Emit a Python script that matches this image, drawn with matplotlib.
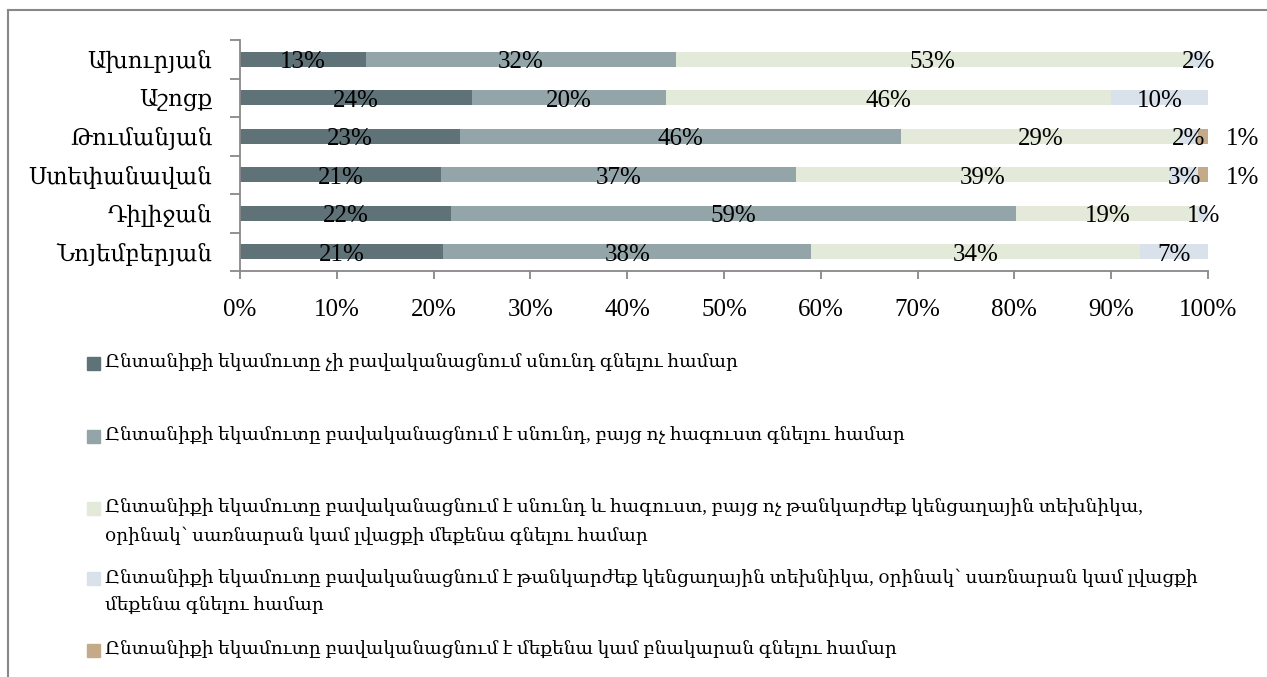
import numpy as np
import matplotlib
matplotlib.use("Agg")
import matplotlib.pyplot as plt
from matplotlib.patches import Rectangle
from matplotlib.lines import Line2D

plt.rcParams["font.family"] = ["Liberation Serif", "DejaVu Serif", "DejaVu Sans"]

# data: share of households (%), as printed on the chart
regions = ["Ախուրյան", "Աշոցք", "Թումանյան", "Ստեփանավան", "Դիլիջան", "Նոյեմբերյան"]
no_food = [13, 24, 23, 21, 22, 21]
food_only = [32, 20, 46, 37, 59, 38]
food_clothes = [53, 46, 29, 39, 19, 34]
appliances = [2, 10, 2, 3, 1, 7]
car_flat = [0, 0, 1, 1, 0, 0]

series = [no_food, food_only, food_clothes, appliances, car_flat]
colors = ["#5f7278", "#93a5a9", "#e4ead9", "#d9e1ea", "#c4aa88"]
legend_labels = [
    "Ընտանիքի եկամուտը չի բավականացնում սնունդ գնելու համար",
    "Ընտանիքի եկամուտը բավականացնում է սնունդ, բայց ոչ հագուստ գնելու համար",
    "Ընտանիքի եկամուտը բավականացնում է սնունդ և հագուստ, բայց ոչ թանկարժեք կենցաղային տեխնիկա,\n"
    "օրինակ՝ սառնարան կամ լվացքի մեքենա գնելու համար",
    "Ընտանիքի եկամուտը բավականացնում է թանկարժեք կենցաղային տեխնիկա, օրինակ՝ սառնարան կամ լվացքի\n"
    "մեքենա գնելու համար",
    "Ընտանիքի եկամուտը բավականացնում է մեքենա կամ բնակարան գնելու համար",
]

W, H = 1267, 677
fig = plt.figure(figsize=(W / 100, H / 100), dpi=100)
ax = fig.add_axes([240 / W, 1 - 271 / H, 968 / W, 231 / H])

# 100% stacked bars
vals = np.array(series, dtype=float)
shares = vals / vals.sum(axis=0) * 100
y = np.arange(len(regions))
left = np.zeros(len(regions))
for k, (row, col) in enumerate(zip(shares, colors)):
    bars = ax.barh(y, row, left=left, height=0.39, color=col, edgecolor="none")
    for i, v in enumerate(vals[k]):
        if v == 0:
            continue
        txt = f"{v:.0f}%"
        if k == 4:
            # small segment: label pushed outside the bar end
            ax.annotate(txt, xy=(100, y[i]), xytext=(25, -2), textcoords="offset points",
                        ha="center", va="center", fontsize=18, annotation_clip=False)
        else:
            ax.annotate(txt, xy=(left[i] + row[i] / 2, y[i]), xytext=(0, -2),
                        textcoords="offset points", ha="center", va="center", fontsize=18)
    left += row

ax.set_xlim(0, 100)
ax.set_ylim(len(regions) - 0.5, -0.5)
ax.set_xticks(np.arange(0, 101, 10))
ax.set_xticklabels([f"{t}%" for t in range(0, 101, 10)], fontsize=18)
ax.set_yticks(y)
ax.set_yticklabels(regions, fontsize=16.5)
ax.set_yticks(np.arange(-0.5, len(regions)), minor=True)

for s in ["top", "right"]:
    ax.spines[s].set_visible(False)
for s in ["left", "bottom"]:
    ax.spines[s].set_color("#888888")
    ax.spines[s].set_linewidth(1.3)
ax.tick_params(axis="y", which="major", length=0, pad=20)
ax.tick_params(axis="y", which="minor", length=7, width=1.3, color="#888888", direction="out")
ax.tick_params(axis="x", length=6, width=1.3, color="#888888", direction="out", pad=14)

# legend drawn by hand to keep Excel-like spacing
rows = [363, 436, 508, 578, 650]
for lab, col, yc in zip(legend_labels, colors, rows):
    fig.patches.append(Rectangle((87 / W, 1 - (yc + 6.5) / H), 13 / W, 13 / H,
                                 transform=fig.transFigure, color=col, figure=fig))
    for j, line in enumerate(lab.split("\n")):
        fig.text(105 / W, 1 - (yc + j * 28) / H, line, ha="left", va="center", fontsize=13.3)

# outer frame (only top and left visible)
fig.lines.append(Line2D([8 / W, 1], [1 - 10 / H, 1 - 10 / H], transform=fig.transFigure,
                        color="#888888", lw=1.5))
fig.lines.append(Line2D([8 / W, 8 / W], [0, 1 - 10 / H], transform=fig.transFigure,
                        color="#888888", lw=1.5))

fig.savefig("out.png", dpi=100)
